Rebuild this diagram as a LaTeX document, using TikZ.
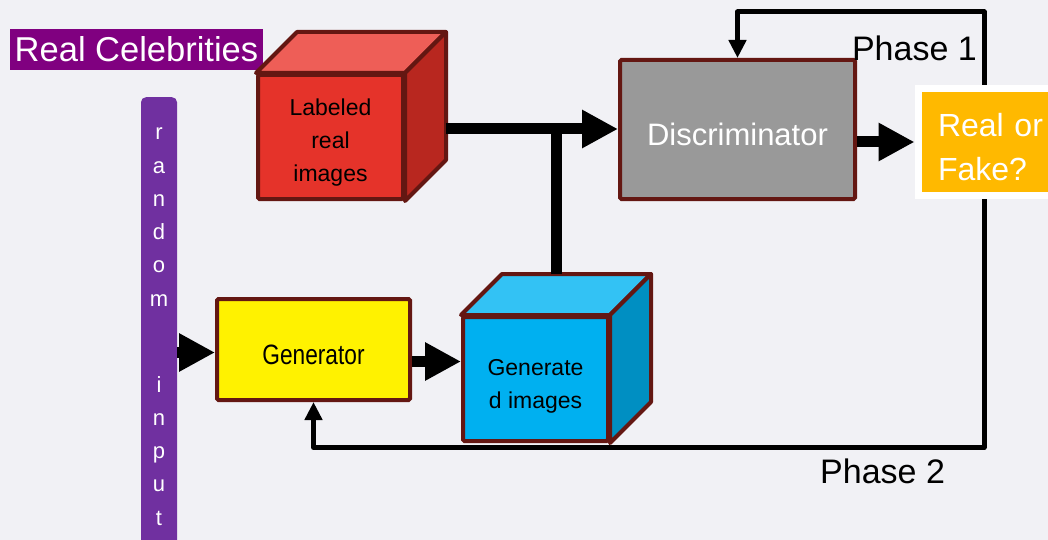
\documentclass[tikz,border=0pt]{standalone}
\usepackage{fontspec}
\usepackage{graphicx}
\setmainfont{Liberation Sans}
\usetikzlibrary{arrows.meta,calc,shadows}
\definecolor{backdrop}{HTML}{F1F1F5}
\definecolor{rim}{HTML}{641712}
\definecolor{celebpurple}{HTML}{800080}
\definecolor{noisepurple}{HTML}{7030A0}
\definecolor{realfront}{HTML}{E5332A}
\definecolor{realtop}{HTML}{EE5E57}
\definecolor{realside}{HTML}{B8271F}
\definecolor{fakefront}{HTML}{00B0F0}
\definecolor{faketop}{HTML}{33C2F4}
\definecolor{fakeside}{HTML}{008FC2}
\definecolor{discgray}{HTML}{999999}
\definecolor{verdict}{HTML}{FFB900}
\tikzset{
block/.style={draw=rim, line width=4pt, rounded corners=1.5pt, inner sep=0pt, align=center},
face/.style={draw=rim, line width=4pt, line join=round},
fat/.style={line width=11pt},
fatarrow/.style={fat, -{Triangle[length=36pt,width=36pt]}},
phase/.style={line width=5pt, line join=round, -{Triangle[length=18pt,width=17pt]}}
}
\newcommand{\cubeshell}[3]{%
  \filldraw[face, fill=#2] (#1.north west) -- ++(41,-41) -- ($(#1.north east)+(41,-41)$) -- (#1.north east) -- cycle;
  \filldraw[face, fill=#3] (#1.north east) -- ++(41,-41) -- ($(#1.south east)+(41,-41)$) -- (#1.south east) -- cycle;}
\newcommand{\lowered}[2]{\raisebox{-#1}[\height][0pt]{#2}}

\begin{document}
\begin{tikzpicture}[x=1pt, y=-1pt]
\fill[backdrop] (0,0) rectangle (1048,540);
\clip (0,0) rectangle (1048,540);
\node[fill=celebpurple, text=white, font=\fontsize{34.5}{34.5}\selectfont, minimum width=253pt,
  minimum height=41pt, inner sep=0pt] (celeb) at (136.5,49.5) {Real Celebrities};
% noise input bar
\node[fill=noisepurple, rounded corners=5pt, minimum width=36pt, minimum height=470pt,
  anchor=north, inner sep=0pt] (noise) at (159,97) {};
\foreach \ch [count=\i] in {r,a,n,d,o,m,i,n,p,u,t}{
  \pgfmathsetmacro{\yy}{140+33.2*(\i-1)+53*(\i>6)}
  \node[text=white, font=\fontsize{22}{22}\selectfont, anchor=base, inner sep=0pt] (ch\i) at (159,\yy) {\ch};
}
% blocks
\node[block, fill=realfront, minimum width=145pt, minimum height=124pt,
  font=\fontsize{23}{33}\selectfont] (real) at (330.5,137) {\rule{0pt}{27pt}Labeled\\real\\images};
\cubeshell{real}{realtop}{realside}
\node[block, fill=discgray, text=white, minimum width=235pt, minimum height=139pt,
  font=\fontsize{31}{31}\selectfont] (disc) at (737.5,129.5) {\lowered{5pt}{Discriminator}};
\node[fill=verdict, draw=white, line width=7pt, drop shadow={opacity=0.2, shadow xshift=1pt, shadow yshift=-3pt},
  minimum width=200pt, minimum height=107pt, anchor=west, inner xsep=20pt, inner ysep=0pt, text width=160pt,
  align=left, text=white, font=\fontsize{32}{44}\selectfont] (verdictbox) at (914.5,142) {\rule{0pt}{33pt}Real or\\Fake?};
\node[block, fill=yellow, minimum width=193pt, minimum height=101pt,
  font=\fontsize{28}{28}\selectfont] (gen) at (313.5,349.5) {\lowered{5.5pt}{\scalebox{0.81}[1]{Generator}}};
\node[block, fill=fakefront, minimum width=145pt, minimum height=124pt,
  font=\fontsize{23}{33}\selectfont] (fake) at (535.5,379) {\rule{0pt}{31pt}Generate\\d images};
\cubeshell{fake}{faketop}{fakeside}
% data flow
\coordinate (rs) at ($(real.east)+(41,-8)$);
\draw[fatarrow] (rs) -- (rs -| disc.west);
\coordinate (join) at ($(fake.north)+(21,-41)$);
\draw[fat] (join) -- (join |- rs);
\draw[fatarrow] (verdictbox.west -| disc.east) -- (verdictbox.west);
\draw[fatarrow] (noise.east |- gen.west) ++(0,3) coordinate (n2g) -- (n2g -| gen.west);
\draw[fatarrow] ($(gen.east)+(0,12)$) coordinate (g2f) -- (g2f -| fake.west);
% feedback
\coordinate (turn1) at (984,12);
\draw[phase] (turn1 |- verdictbox.north) -- (turn1) -| (disc.north);
\coordinate (turn2) at (984,447.5);
\draw[phase] (turn2 |- verdictbox.south) -- (turn2) -| (gen.south);
\node[anchor=base east, font=\fontsize{34}{34}\selectfont, inner sep=0pt] (ph1) at (977,61) {Phase 1};
\node[anchor=base west, font=\fontsize{34}{34}\selectfont, inner sep=0pt] (ph2) at (820,483) {Phase 2};
\end{tikzpicture}
\end{document}
